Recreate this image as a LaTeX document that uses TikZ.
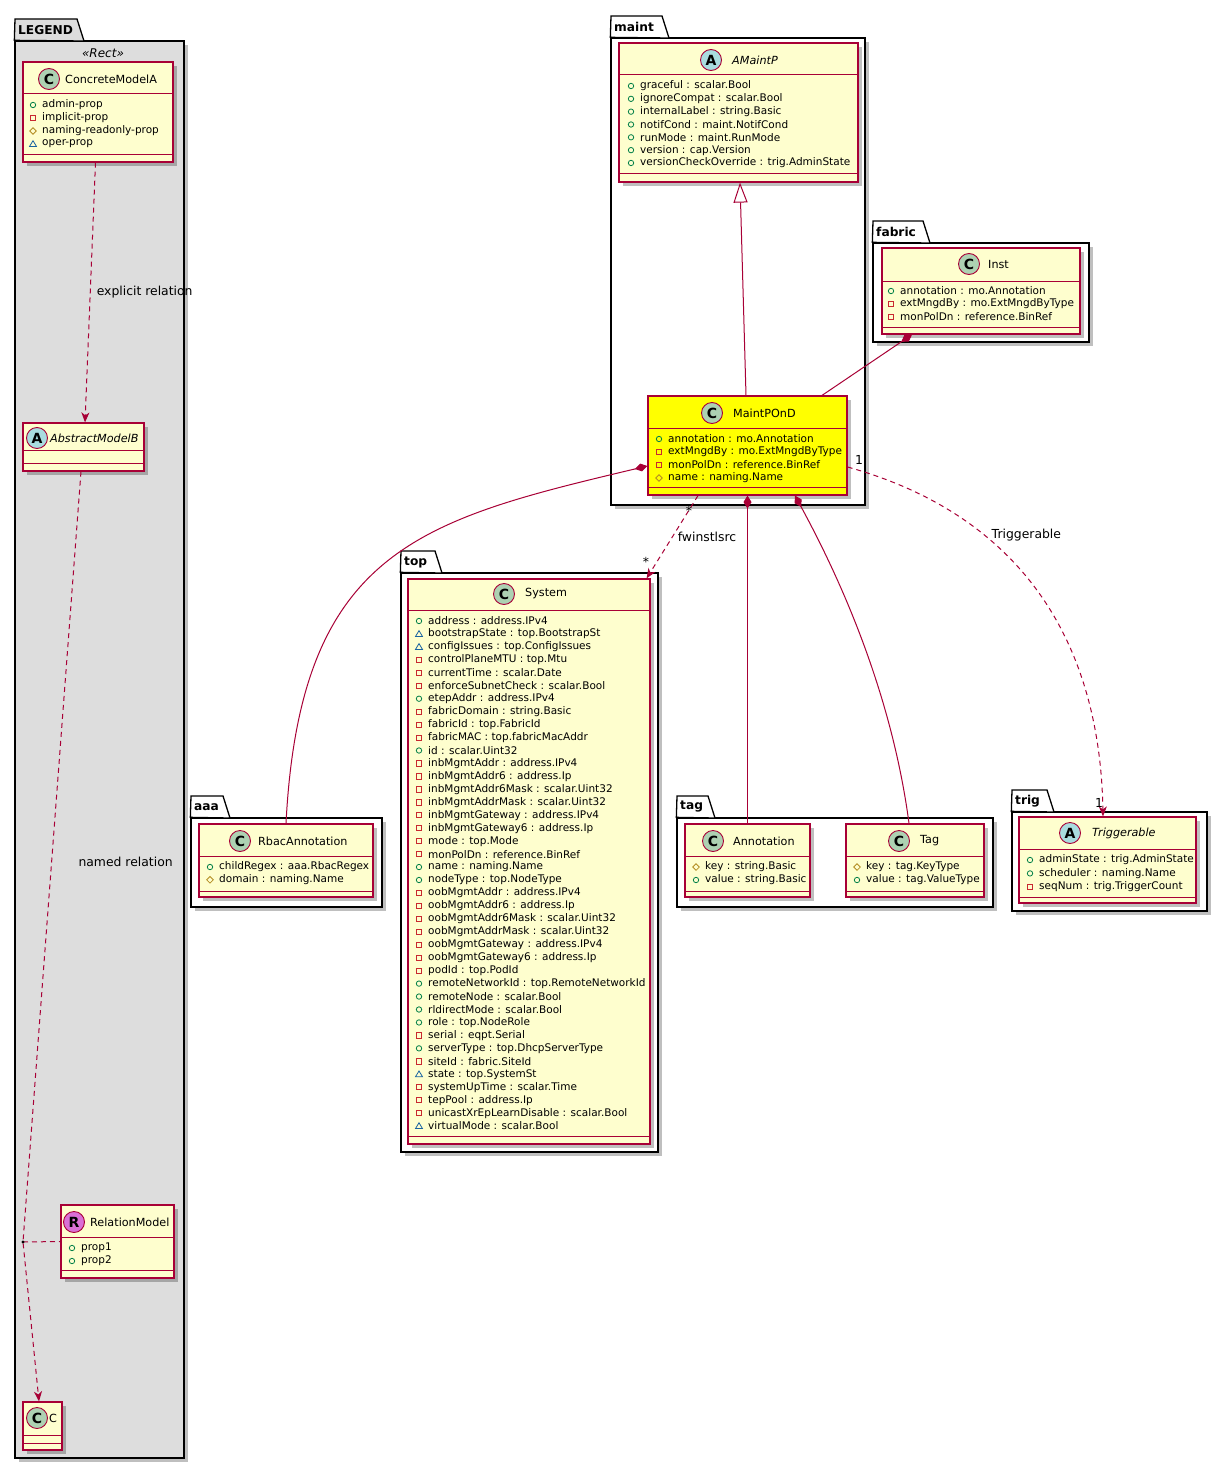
\documentclass[tikz,border=0pt]{standalone}
\usepackage{fontspec}
\setmainfont{DejaVu Sans}
\usetikzlibrary{arrows.meta,fit,shadows}
\definecolor{umlred}{HTML}{A80036}
\definecolor{classbg}{HTML}{FEFECE}
\definecolor{hilite}{HTML}{FFFF00}
\definecolor{spotC}{HTML}{ADD1B2}
\definecolor{spotA}{HTML}{A9DCDF}
\definecolor{spotR}{HTML}{DA70D6}
\definecolor{legendbg}{HTML}{DDDDDD}
\definecolor{pubgreen}{HTML}{038048}
\definecolor{privred}{HTML}{C82930}
\definecolor{protgold}{HTML}{B38D22}
\definecolor{pkgblue}{HTML}{1963A0}
\tikzset{>/.tip={Stealth[length=10pt,width=8pt,inset=3pt]}}
\tikzset{comp/.tip={Diamond[length=13pt,width=8pt]}}
\tikzset{inh/.tip={Triangle[length=20pt,width=14pt,fill=white]}}
% visibility marks
\def\visp#1#2{\draw[pubgreen,line width=.8pt] (#1,#2) circle (2.7pt);}
\def\visr#1#2{\draw[privred,line width=.8pt] (#1,#2) +(-2.6,-2.6) rectangle +(2.6,2.6);}
\def\visd#1#2{\draw[protgold,line width=.8pt] (#1,#2) +(-3.3,0) -- +(0,-3.3) -- +(3.3,0) -- +(0,3.3) -- cycle;}
\def\vist#1#2{\draw[pkgblue,line width=.8pt] (#1,#2) +(-3.5,2.5) -- +(0,-3.3) -- +(3.5,2.5) -- cycle;}
% name, fill, x0, y0, x1, y1, separators
\def\umlclass#1#2#3#4#5#6#7#8{%
  \node[classbox,fill=#2,fit={(#3,#4) (#5,#6)}] (#1) {};
  \draw[umlline] (#1.west |- 0,#7) -- (#1.east |- 0,#7)
                 (#1.west |- 0,#8) -- (#1.east |- 0,#8);}
% prefix, mark x, first y, step, list
\def\members#1#2#3#4#5{%
  \foreach \vis/\txt [count=\i from 0] in {#5}{
    \csname vis\vis\endcsname{#2}{#3+#4*\i}
    \node[member] (#1-\i) at (#2+9,#3+#4*\i) {\txt};
  }}
% name, label, x0, tab top, tab x, body top, x1, y1, fill
\def\umlpkg#1#2#3#4#5#6#7#8#9{%
  \node[pkgbody,fill=#9,fit={(#3,#6) (#7,#8)}] (#1) {};
  \draw[pkgline,fill=#9] (#1.north west) -- (#3,#4) -- (#5,#4) -- (#5+7,#6) -- cycle;
  \node[pkglabel] (#1-l) at (#3+3,{(#4+#6)/2}) {#2};}

\begin{document}
\begin{tikzpicture}[x=1pt,y=-1pt,
    umlline/.style={draw=umlred,line width=1pt},
    dep/.style={umlline,dash pattern=on 5pt off 4pt},
    classbox/.style={draw=umlred,line width=1.2pt,inner sep=0pt,
      drop shadow={shadow xshift=4pt,shadow yshift=-4pt,fill=black,opacity=.25}},
    pkgbody/.style={draw=black,line width=1.3pt,inner sep=0pt,
      drop shadow={shadow xshift=4pt,shadow yshift=-4pt,fill=black,opacity=.25}},
    pkgline/.style={draw=black,line width=1.3pt},
    pkglabel/.style={anchor=west,inner sep=0pt,font=\bfseries\fontsize{12.2}{14}\selectfont},
    spot/.style={circle,draw=umlred,line width=.9pt,minimum size=21pt,inner sep=0pt,
      font=\bfseries\fontsize{14}{14}\selectfont},
    cname/.style={anchor=west,inner sep=0pt,font=\fontsize{11.2}{13}\selectfont},
    aname/.style={cname,font=\itshape\fontsize{11.2}{13}\selectfont},
    member/.style={anchor=west,inner sep=0pt,font=\fontsize{10.5}{12}\selectfont},
    lbl/.style={inner sep=0pt,font=\fontsize{12.4}{14}\selectfont}]
  \path[use as bounding box,fill=white] (0,0) rectangle (1226,1469);

  % packages
  \umlpkg{legend}{LEGEND}{15}{19}{77}{41}{184}{1458}{legendbg}
  \umlpkg{maint}{maint}{611}{16}{662}{38}{865}{505}{white}
  \umlpkg{fabric}{fabric}{873}{221}{923}{243}{1089}{342}{white}
  \umlpkg{top}{top}{401}{551}{435}{573}{658}{1152}{white}
  \umlpkg{aaa}{aaa}{191}{796}{223}{818}{382}{907}{white}
  \umlpkg{tagpkg}{tag}{677}{796}{708}{818}{993}{907}{white}
  \umlpkg{trig}{trig}{1012}{790}{1047}{812}{1207}{911}{white}
  \node[lbl,font=\itshape\fontsize{12}{14}\selectfont] (stereo) at (103,53) {«Rect»};

  % legend
  \umlclass{cma}{classbg}{23}{62}{173}{162}{94}{154}
  \node[spot,fill=spotC] (cma-s) at (49,79) {C};
  \node[cname] (cma-n) at (65,79) {ConcreteModelA};
  \members{cma}{33}{105}{13}{p/admin-prop,r/implicit-prop,d/naming-readonly-prop,t/oper-prop}

  \umlclass{amb}{classbg}{23}{423}{144}{471}{450}{463}
  \node[spot,fill=spotA] (amb-s) at (37,438) {A};
  \node[aname] (amb-n) at (50,438) {AbstractModelB};

  \umlclass{relm}{classbg}{61}{1205}{174}{1278}{1237}{1270}
  \node[spot,fill=spotR] (relm-s) at (74,1222) {R};
  \node[cname] (relm-n) at (90,1222) {RelationModel};
  \members{relm}{72}{1248}{13}{p/prop1,p/prop2}

  \umlclass{cc}{classbg}{23}{1402}{62}{1450}{1435}{1443}
  \node[spot,fill=spotC] (cc-s) at (37,1418) {C};
  \node[cname] (cc-n) at (49,1418) {C};

  % maint
  \umlclass{amaint}{classbg}{619}{43}{858}{182}{75}{173}
  \node[spot,fill=spotA] (amaint-s) at (711,60) {A};
  \node[aname] (amaint-n) at (732,60) {AMaintP};
  \members{amaint}{631}{86}{12.83}{p/graceful : scalar.Bool,p/ignoreCompat : scalar.Bool,
    p/internalLabel : string.Basic,p/notifCond : maint.NotifCond,p/runMode : maint.RunMode,
    p/version : cap.Version,p/versionCheckOverride : trig.AdminState}

  \umlclass{mpond}{hilite}{648}{396}{847}{495}{428}{487}
  \node[spot,fill=spotC] (mpond-s) at (712,413) {C};
  \node[cname] (mpond-n) at (733,413) {MaintPOnD};
  \members{mpond}{659}{439}{13}{p/annotation : mo.Annotation,r/extMngdBy : mo.ExtMngdByType,
    r/monPolDn : reference.BinRef,d/name : naming.Name}

  % fabric
  \umlclass{inst}{classbg}{882}{248}{1080}{334}{281}{327}
  \node[spot,fill=spotC] (inst-s) at (969,264) {C};
  \node[cname] (inst-n) at (988,264) {Inst};
  \members{inst}{891}{291}{13}{p/annotation : mo.Annotation,r/extMngdBy : mo.ExtMngdByType,
    r/monPolDn : reference.BinRef}

  % top
  \umlclass{sys}{classbg}{408}{579}{650}{1144}{610}{1136}
  \node[spot,fill=spotC] (sys-s) at (504,594) {C};
  \node[cname] (sys-n) at (525,594) {System};
  \members{sys}{419}{621}{12.95}{p/address : address.IPv4,t/bootstrapState : top.BootstrapSt,
    t/configIssues : top.ConfigIssues,r/controlPlaneMTU : top.Mtu,r/currentTime : scalar.Date,
    r/enforceSubnetCheck : scalar.Bool,p/etepAddr : address.IPv4,r/fabricDomain : string.Basic,
    r/fabricId : top.FabricId,r/fabricMAC : top.fabricMacAddr,p/id : scalar.Uint32,
    r/inbMgmtAddr : address.IPv4,r/inbMgmtAddr6 : address.Ip,r/inbMgmtAddr6Mask : scalar.Uint32,
    r/inbMgmtAddrMask : scalar.Uint32,r/inbMgmtGateway : address.IPv4,
    r/inbMgmtGateway6 : address.Ip,r/mode : top.Mode,r/monPolDn : reference.BinRef,
    p/name : naming.Name,p/nodeType : top.NodeType,r/oobMgmtAddr : address.IPv4,
    r/oobMgmtAddr6 : address.Ip,r/oobMgmtAddr6Mask : scalar.Uint32,
    r/oobMgmtAddrMask : scalar.Uint32,r/oobMgmtGateway : address.IPv4,
    r/oobMgmtGateway6 : address.Ip,r/podId : top.PodId,p/remoteNetworkId : top.RemoteNetworkId,
    p/remoteNode : scalar.Bool,p/rldirectMode : scalar.Bool,p/role : top.NodeRole,
    r/serial : eqpt.Serial,p/serverType : top.DhcpServerType,r/siteId : fabric.SiteId,
    t/state : top.SystemSt,r/systemUpTime : scalar.Time,r/tepPool : address.Ip,
    r/unicastXrEpLearnDisable : scalar.Bool,t/virtualMode : scalar.Bool}

  % aaa
  \umlclass{rbac}{classbg}{199}{824}{373}{897}{856}{891}
  \node[spot,fill=spotC] (rbac-s) at (240,841) {C};
  \node[cname] (rbac-n) at (258,841) {RbacAnnotation};
  \members{rbac}{210}{867}{12.8}{p/childRegex : aaa.RbacRegex,d/domain : naming.Name}

  % tag
  \umlclass{ann}{classbg}{685}{824}{810}{897}{856}{891}
  \node[spot,fill=spotC] (ann-s) at (713,841) {C};
  \node[cname] (ann-n) at (733,841) {Annotation};
  \members{ann}{696}{867}{13}{d/key : string.Basic,p/value : string.Basic}

  \umlclass{tag}{classbg}{846}{824}{984}{897}{856}{891}
  \node[spot,fill=spotC] (tag-s) at (899,841) {C};
  \node[cname] (tag-n) at (920,841) {Tag};
  \members{tag}{857}{867}{13}{d/key : tag.KeyType,p/value : tag.ValueType}

  % trig
  \umlclass{trg}{classbg}{1019}{817}{1196}{903}{849}{897}
  \node[spot,fill=spotA] (trg-s) at (1070,833) {A};
  \node[aname] (trg-n) at (1092,833) {Triggerable};
  \members{trg}{1030}{860}{13.4}{p/adminState : trig.AdminState,p/scheduler : naming.Name,
    r/seqNum : trig.TriggerCount}

  % legend relations
  \coordinate (rel) at (23,1242);
  \draw[dep,->] ([xshift=-2.5pt]cma.south) -- node[lbl,anchor=west,pos=.5,xshift=6pt]
    {explicit relation} ([xshift=1.5pt]amb.north);
  \draw[dep,->] ([xshift=-2.5pt]amb.south) -- node[lbl,anchor=west,pos=.5,xshift=26pt,yshift=-5pt]
    {named relation} (rel) -- ([xshift=-3.5pt]cc.north);
  \draw[dep] (rel) -- (relm.west);
  \fill (rel) circle (1.7pt);

  % relations
  \draw[umlline,-inh] ([xshift=-1.5pt]mpond.north) -- ([xshift=1.5pt]amaint.south);
  \draw[umlline,comp-] ([xshift=-69pt]inst.south) -- ([xshift=74.5pt]mpond.north);
  \draw[umlline,comp-] ([yshift=-20.5pt]mpond.west) .. controls (420,520) and (300,550) .. (rbac.north);
  \draw[umlline,comp-] (mpond.south) -- (ann.north);
  \draw[umlline,comp-] ([xshift=47.5pt]mpond.south) .. controls (830,560) and (890,680) .. ([xshift=-6pt]tag.north);
  \draw[dep,->] ([xshift=-49.5pt]mpond.south) -- node[lbl,anchor=west,pos=.5,xshift=5pt]
    {fwinstlsrc} ([xshift=-4pt]sys.north east);
  \draw[dep,->] ([yshift=-21.5pt]mpond.east) .. controls (1020,515) and (1100,640) ..
    node[lbl,anchor=west,pos=.3,xshift=13pt,yshift=-5pt] {Triggerable} ([xshift=-4.5pt]trg.north);
  \node[lbl] (m1) at (689,511) {*};
  \node[lbl] (m2) at (646,562) {*};
  \node[lbl] (m3) at (859,460) {1};
  \node[lbl] (m4) at (1099,803) {1};
\end{tikzpicture}
\end{document}
